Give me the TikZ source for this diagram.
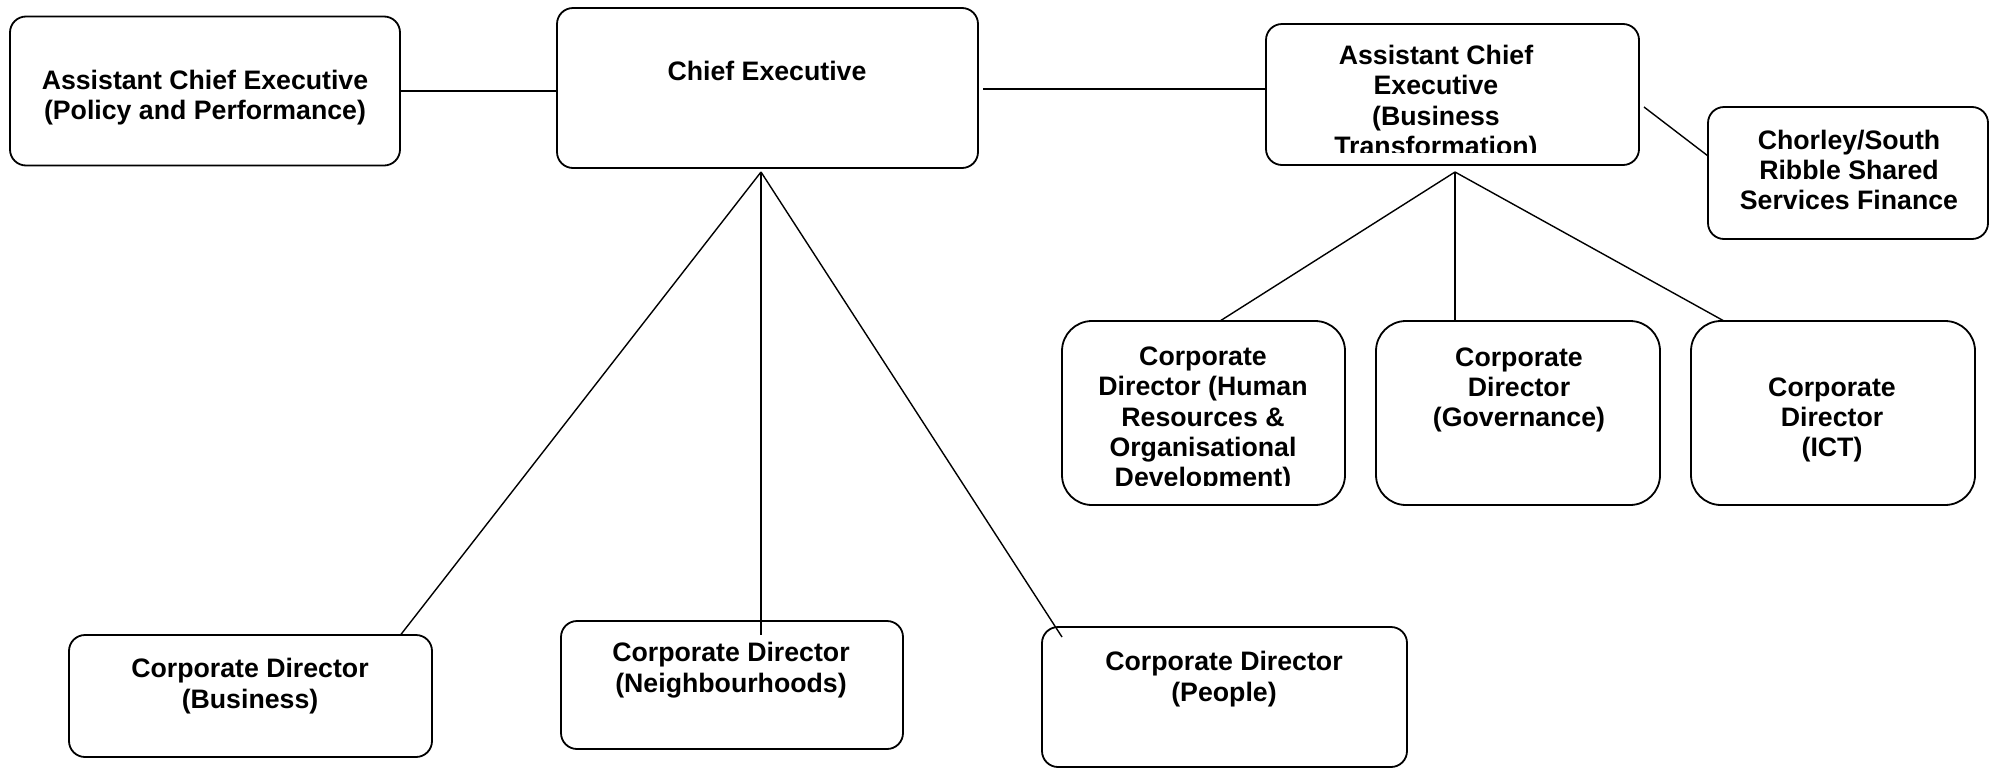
\documentclass[tikz,border=0pt]{standalone}
\usepackage{fontspec}
\setmainfont{Liberation Sans}
\begin{document}
\begin{tikzpicture}[x=1pt,y=-1pt,
  box/.style={draw, line width=1.8pt, rounded corners=16pt, inner sep=0pt},
  bigbox/.style={box, rounded corners=30pt},
  lbl/.style={font=\fontsize{26.7pt}{30.3pt}\selectfont\bfseries, align=center, inner sep=0pt},
  link/.style={line width=1.4pt}]
\useasboundingbox (0,0) rectangle (1991,769);
% boxes
\node[box, minimum width=390pt, minimum height=149pt] (acep) at (205,91) {};
\node[box, minimum width=421pt, minimum height=160pt] (ce) at (767.5,88) {};
\node[box, minimum width=373pt, minimum height=141pt] (acebt) at (1452.5,94.5) {};
\node[box, minimum width=280pt, minimum height=132pt] (chor) at (1848,173) {};
\node[bigbox, minimum width=283pt, minimum height=184pt] (hr) at (1203.5,413) {};
\node[bigbox, minimum width=284pt, minimum height=184pt] (gov) at (1518,413) {};
\node[bigbox, minimum width=284pt, minimum height=184pt] (ict) at (1833,413) {};
\node[box, minimum width=363pt, minimum height=122pt] (biz) at (250.5,696) {};
\node[box, minimum width=342pt, minimum height=128pt] (nb) at (732,685) {};
\node[box, minimum width=365pt, minimum height=140pt] (ppl) at (1224.5,697) {};
% texts
\node[lbl] (acept) at (205,97.5) {Assistant Chief Executive\\(Policy and Performance)};
\node[lbl] (cet) at (767,70.5) {Chief Executive};
\begin{scope}
\clip (1266,24) rectangle (1639,152);
\node[lbl] (acebtt) at (1436,103) {Assistant Chief\\Executive\\(Business\\Transformation)};
\end{scope}
\node[lbl] (chort) at (1849,170) {Chorley/South\\Ribble Shared\\Services Finance};
\begin{scope}
\clip (1062,321) rectangle (1345,485);
\node[lbl] (hrt) at (1203,419.5) {Corporate\\Director (Human\\Resources \&\\Organisational\\Development)};
\end{scope}
\node[lbl] (govt) at (1519,390) {Corporate\\Director\\(Governance)};
\node[lbl] (ictt) at (1832,420) {Corporate\\Director\\(ICT)};
\node[lbl] (bizt) at (250,686) {Corporate Director\\(Business)};
\node[lbl] (nbt) at (731,670) {Corporate Director\\(Neighbourhoods)};
\node[lbl] (pplt) at (1224,679) {Corporate Director\\(People)};
% connector points
\coordinate (ceR) at (983,89);
\coordinate (btR) at (1644,107);
\coordinate (chL) at (1708,156);
\coordinate (btA) at (1455,172);
\coordinate (hrT) at (1220,321);
\coordinate (govT) at (1455,321);
\coordinate (ictT) at (1724,321);
\coordinate (ceA) at (761,172);
\coordinate (bizT) at (400.5,635);
\coordinate (nbT) at (761,635);
\coordinate (pplT) at (1062,637);
% connectors
\draw[link] (acep.east) -- (acep.east -| ce.west);
\draw[link] (ceR) -- (ceR -| acebt.west);
\draw[link] (btR) -- (chL);
\draw[link] (btA) -- (hrT);
\draw[link] (btA) -- (govT);
\draw[link] (btA) -- (ictT);
\draw[link] (ceA) -- (bizT);
\draw[link] (ceA) -- (nbT);
\draw[link] (ceA) -- (pplT);
\end{tikzpicture}
\end{document}
